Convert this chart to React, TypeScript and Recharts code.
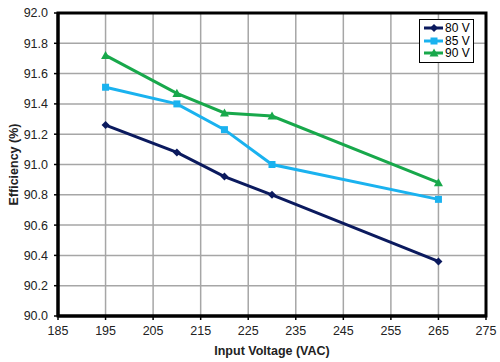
import React from 'react';
import { LineChart, Line, XAxis, YAxis, CartesianGrid, ReferenceArea, Label } from 'recharts';

const voltages = [195, 210, 220, 230, 265];
const eff80 = [91.26, 91.08, 90.92, 90.8, 90.36];
const eff85 = [91.51, 91.4, 91.23, 91.0, 90.77];
const eff90 = [91.72, 91.47, 91.34, 91.32, 90.88];
const xTicks = [185, 195, 205, 215, 225, 235, 245, 255, 265, 275];
const yTicks = [90.0, 90.2, 90.4, 90.6, 90.8, 91.0, 91.2, 91.4, 91.6, 91.8, 92.0];
const seriesNames = ['80 V', '85 V', '90 V'];
const seriesColors = ['#0b1a5e', '#1ab2ef', '#18a84b'];

const data = voltages.map((v, i) => ({ v, s80: eff80[i], s85: eff85[i], s90: eff90[i] }));

const Marker = ({ kind, cx, cy, color }: any) => {
  if (cx == null || cy == null) return null;
  if (kind === 'diamond') {
    const r = 4;
    return <polygon points={`${cx},${cy - r} ${cx + r},${cy} ${cx},${cy + r} ${cx - r},${cy}`} fill={color} />;
  }
  if (kind === 'square') {
    const r = 3.5;
    return <rect x={cx - r} y={cy - r} width={2 * r} height={2 * r} fill={color} />;
  }
  const r = 4.5;
  return <polygon points={`${cx},${cy - r} ${cx + r},${cy + r * 0.8} ${cx - r},${cy + r * 0.8}`} fill={color} />;
};

const kinds = ['diamond', 'square', 'triangle'];
const font = 'Liberation Sans, Arial, sans-serif';

const LegendBox = () => (
  <div style={{ position: 'absolute', left: 419, top: 19, border: '1px solid #000', background: '#fff', width: 55, padding: '2px 0', boxSizing: 'border-box' }}>
    {seriesNames.map((n, i) => (
      <div key={n} style={{ display: 'flex', alignItems: 'center', height: 12.5 }}>
        <svg width={22} height={12} style={{ marginLeft: 3 }}>
          <line x1={1} y1={6} x2={20} y2={6} stroke={seriesColors[i]} strokeWidth={3} />
          <Marker kind={kinds[i]} cx={11} cy={6} color={seriesColors[i]} />
        </svg>
        <span style={{ fontFamily: font, fontSize: 12, color: '#000', lineHeight: '12px' }}>{n}</span>
      </div>
    ))}
  </div>
);

export default function App() {
  return (
    <div style={{ position: 'absolute', left: 0, top: 0, width: 500, height: 362, background: '#fff' }}>
      <LineChart width={500} height={362} data={data} margin={{ top: 13, right: 14, bottom: 0, left: 0 }}>
        <CartesianGrid stroke="#a6a6a6" strokeWidth={1.5} />
        <XAxis
          dataKey="v"
          type="number"
          domain={[185, 275]}
          ticks={xTicks}
          height={46}
          interval={0}
          tick={{ fill: '#222', fontSize: 12.5, fontFamily: font }}
          tickSize={4}
          tickMargin={6}
          axisLine={{ stroke: '#000', strokeWidth: 3 }}
          tickLine={{ stroke: '#000', strokeWidth: 1.5 }}
        >
          <Label
            content={({ viewBox }: any) => (
              <text x={viewBox.x + viewBox.width / 2} y={355} textAnchor="middle" fontFamily={font} fontWeight="bold" fontSize={12.5} fill="#222">
                Input Voltage (VAC)
              </text>
            )}
          />
        </XAxis>
        <YAxis
          type="number"
          domain={[90, 92]}
          ticks={yTicks}
          width={58}
          interval={0}
          tickFormatter={(t: number) => t.toFixed(1)}
          tick={{ fill: '#222', fontSize: 12.5, fontFamily: font }}
          tickSize={4}
          tickMargin={6}
          axisLine={{ stroke: '#000', strokeWidth: 3 }}
          tickLine={{ stroke: '#000', strokeWidth: 1.5 }}
        >
          <Label
            content={({ viewBox }: any) => {
              const cy = viewBox.y + viewBox.height / 2;
              return (
                <text x={18} y={cy} transform={`rotate(-90 18 ${cy})`} textAnchor="middle" fontFamily={font} fontWeight="bold" fontSize={12.5} fill="#222">
                  Efficiency (%)
                </text>
              );
            }}
          />
        </YAxis>
        <ReferenceArea x1={185} x2={275} y1={90} y2={92} fill="none" stroke="#000" strokeWidth={3} ifOverflow="visible" />
        <Line dataKey="s80" name="80 V" stroke={seriesColors[0]} strokeWidth={3} isAnimationActive={false}
          dot={(p: any) => <Marker key={p.index} kind="diamond" cx={p.cx} cy={p.cy} color={seriesColors[0]} />} />
        <Line dataKey="s85" name="85 V" stroke={seriesColors[1]} strokeWidth={3} isAnimationActive={false}
          dot={(p: any) => <Marker key={p.index} kind="square" cx={p.cx} cy={p.cy} color={seriesColors[1]} />} />
        <Line dataKey="s90" name="90 V" stroke={seriesColors[2]} strokeWidth={3} isAnimationActive={false}
          dot={(p: any) => <Marker key={p.index} kind="triangle" cx={p.cx} cy={p.cy} color={seriesColors[2]} />} />
      </LineChart>
      <LegendBox />
    </div>
  );
}
